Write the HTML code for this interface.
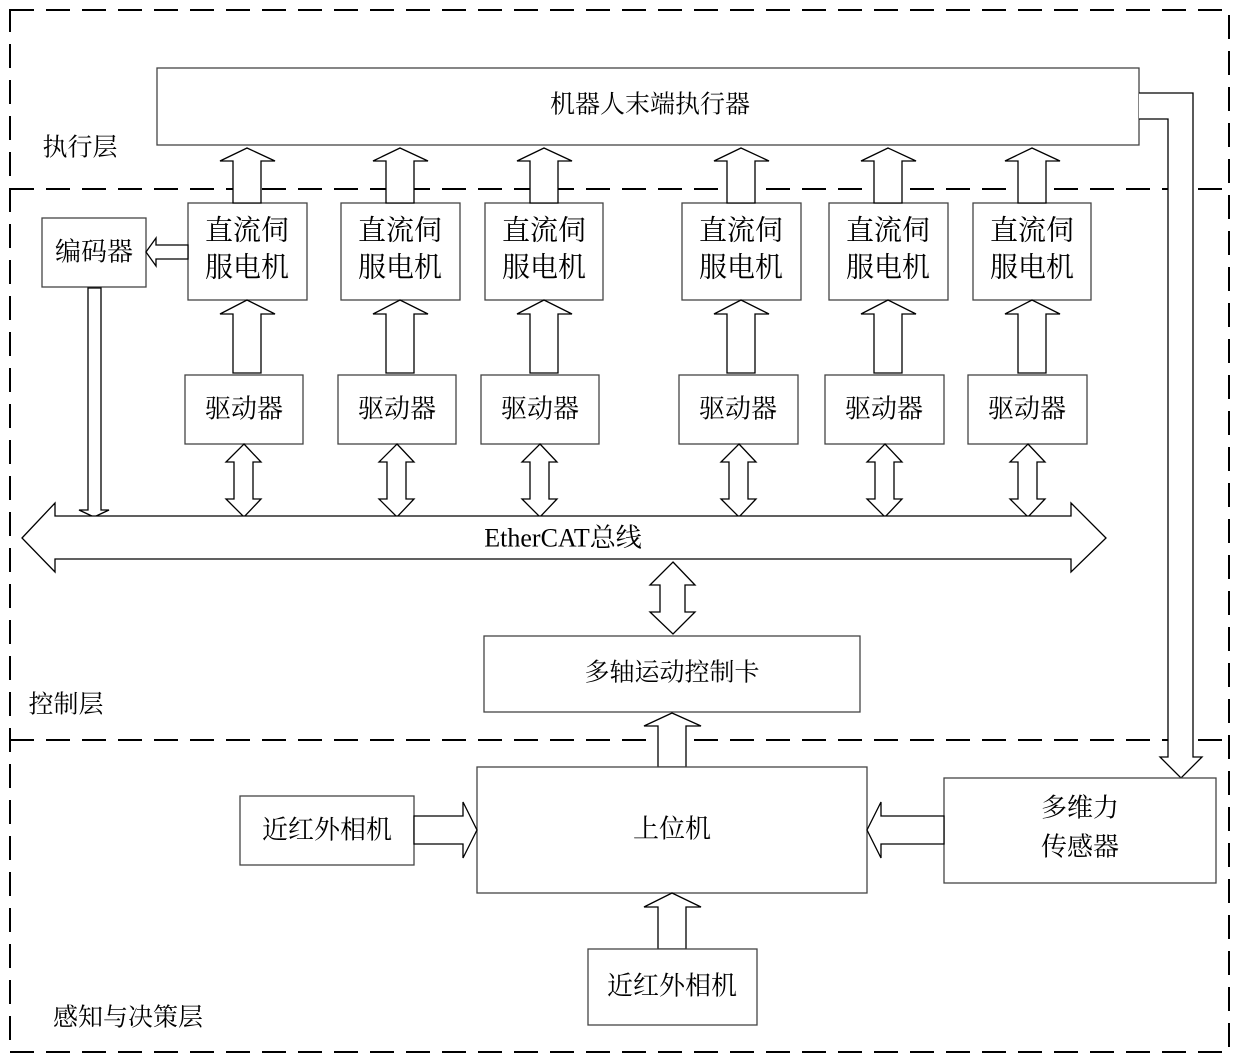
<!DOCTYPE html>
<html><head><meta charset="utf-8"><style>
html,body{margin:0;padding:0;background:#fff}
svg{display:block}
text{font-family:"Liberation Serif","Noto Serif CJK SC","Noto Sans CJK SC",serif;fill:#000;text-anchor:middle;dominant-baseline:central}
.b{fill:#fff;stroke:#444;stroke-width:1.3}
.a{fill:#fff;stroke:#000;stroke-width:1.3;stroke-linejoin:miter}
.d{fill:none;stroke:#000;stroke-width:2;stroke-dasharray:24,12}
</style></head><body>
<svg width="1240" height="1062" viewBox="0 0 1240 1062" xmlns="http://www.w3.org/2000/svg">
<rect x="10" y="10" width="1219" height="1042" class="d"/>
<line x1="10" y1="189" x2="1229" y2="189" class="d"/>
<line x1="10" y1="740" x2="1229" y2="740" class="d"/>

<!-- robot box -->
<rect x="157" y="68" width="982" height="77" class="b"/>
<text x="650" y="105" font-size="25">机器人末端执行器</text>
<text x="80" y="148" font-size="25">执行层</text>
<text x="66" y="705" font-size="25">控制层</text>
<text x="128" y="1018" font-size="25">感知与决策层</text>

<!-- right lines -->
<polyline points="1139,93 1193,93 1193,757 1202,757 1181,778 1160,757 1168,757 1168,119 1139,119" class="a"/>

<!-- motors & drivers -->
<g id="col">
</g>
<rect x="188" y="203" width="119" height="97" class="b"/>
<rect x="341" y="203" width="119" height="97" class="b"/>
<rect x="485" y="203" width="118" height="97" class="b"/>
<rect x="682" y="203" width="119" height="97" class="b"/>
<rect x="829" y="203" width="119" height="97" class="b"/>
<rect x="973" y="203" width="118" height="97" class="b"/>
<g font-size="28">
<text x="247" y="231">直流伺</text><text x="247" y="268">服电机</text>
<text x="400" y="231">直流伺</text><text x="400" y="268">服电机</text>
<text x="544" y="231">直流伺</text><text x="544" y="268">服电机</text>
<text x="741" y="231">直流伺</text><text x="741" y="268">服电机</text>
<text x="888" y="231">直流伺</text><text x="888" y="268">服电机</text>
<text x="1032" y="231">直流伺</text><text x="1032" y="268">服电机</text>
</g>
<rect x="185" y="375" width="118" height="69" class="b"/>
<rect x="338" y="375" width="118" height="69" class="b"/>
<rect x="481" y="375" width="118" height="69" class="b"/>
<rect x="679" y="375" width="119" height="69" class="b"/>
<rect x="825" y="375" width="119" height="69" class="b"/>
<rect x="968" y="375" width="119" height="69" class="b"/>
<g font-size="26">
<text x="244" y="409">驱动器</text><text x="397" y="409">驱动器</text><text x="540" y="409">驱动器</text>
<text x="738" y="409">驱动器</text><text x="884" y="409">驱动器</text><text x="1027" y="409">驱动器</text>
</g>

<!-- up arrows motor->robot and driver->motor -->
<g class="a">
<polygon points="233,203 233,161 220,161 247,148 275,161 261,161 261,203"/>
<polygon points="386,203 386,161 373,161 400,148 428,161 414,161 414,203"/>
<polygon points="530,203 530,161 517,161 544,148 572,161 558,161 558,203"/>
<polygon points="727,203 727,161 714,161 741,148 769,161 755,161 755,203"/>
<polygon points="874,203 874,161 861,161 888,148 916,161 902,161 902,203"/>
<polygon points="1018,203 1018,161 1005,161 1032,148 1060,161 1046,161 1046,203"/>

<polygon points="233,373 233,314 220,314 247,300 275,314 261,314 261,373"/>
<polygon points="386,373 386,314 373,314 400,300 428,314 414,314 414,373"/>
<polygon points="530,373 530,314 517,314 544,300 572,314 558,314 558,373"/>
<polygon points="727,373 727,314 714,314 741,300 769,314 755,314 755,373"/>
<polygon points="874,373 874,314 861,314 888,300 916,314 902,314 902,373"/>
<polygon points="1018,373 1018,314 1005,314 1032,300 1060,314 1046,314 1046,373"/>
</g>

<!-- double arrows driver<->bus -->
<g class="a">
<polygon points="244,444 261,462 253,462 253,499 261,499 244,517 226,499 234,499 234,462 226,462"/>
<polygon points="397,444 414,462 406,462 406,499 414,499 397,517 379,499 387,499 387,462 379,462"/>
<polygon points="540,444 557,462 549,462 549,499 557,499 540,517 522,499 530,499 530,462 522,462"/>
<polygon points="739,444 756,462 748,462 748,499 756,499 739,517 721,499 729,499 729,462 721,462"/>
<polygon points="885,444 902,462 894,462 894,499 902,499 885,517 867,499 875,499 875,462 867,462"/>
<polygon points="1028,444 1045,462 1037,462 1037,499 1045,499 1028,517 1010,499 1018,499 1018,462 1010,462"/>
</g>

<!-- encoder -->
<rect x="42" y="218" width="104" height="69" class="b"/>
<text x="94" y="252" font-size="26">编码器</text>
<polygon class="a" points="188,245 156,245 156,238 146,252 156,266 156,259 188,259"/>
<polygon class="a" points="88,288 101,288 101,510 109,510 94,517 79,510 88,510"/>

<!-- bus -->
<polygon class="a" points="22,538 55,503 55,516 1071,516 1071,503 1106,538 1071,572 1071,559 55,559 55,572"/>
<text x="563" y="538" font-size="26">EtherCAT总线</text>

<!-- bus<->card -->
<polygon class="a" points="673,562 695,585 685,585 685,612 695,612 673,634 650,612 660,612 660,585 650,585"/>

<rect x="484" y="636" width="376" height="76" class="b"/>
<text x="672" y="673" font-size="25">多轴运动控制卡</text>

<!-- host -->
<polygon class="a" points="658,767 658,726 644,726 672,713 701,726 686,726 686,767"/>
<rect x="477" y="767" width="390" height="126" class="b"/>
<text x="672" y="829" font-size="26">上位机</text>

<rect x="240" y="796" width="174" height="69" class="b"/>
<text x="327" y="830" font-size="26">近红外相机</text>
<polygon class="a" points="414,816 463,816 463,802 477,830 463,858 463,844 414,844"/>

<rect x="944" y="778" width="272" height="105" class="b"/>
<text x="1080" y="808" font-size="26">多维力</text>
<text x="1080" y="847" font-size="26">传感器</text>
<polygon class="a" points="944,816 881,816 881,802 867,830 881,858 881,844 944,844"/>

<polygon class="a" points="658,949 658,907 644,907 672,893 701,907 686,907 686,949"/>
<rect x="588" y="949" width="169" height="76" class="b"/>
<text x="672" y="986" font-size="26">近红外相机</text>
</svg>
</body></html>
